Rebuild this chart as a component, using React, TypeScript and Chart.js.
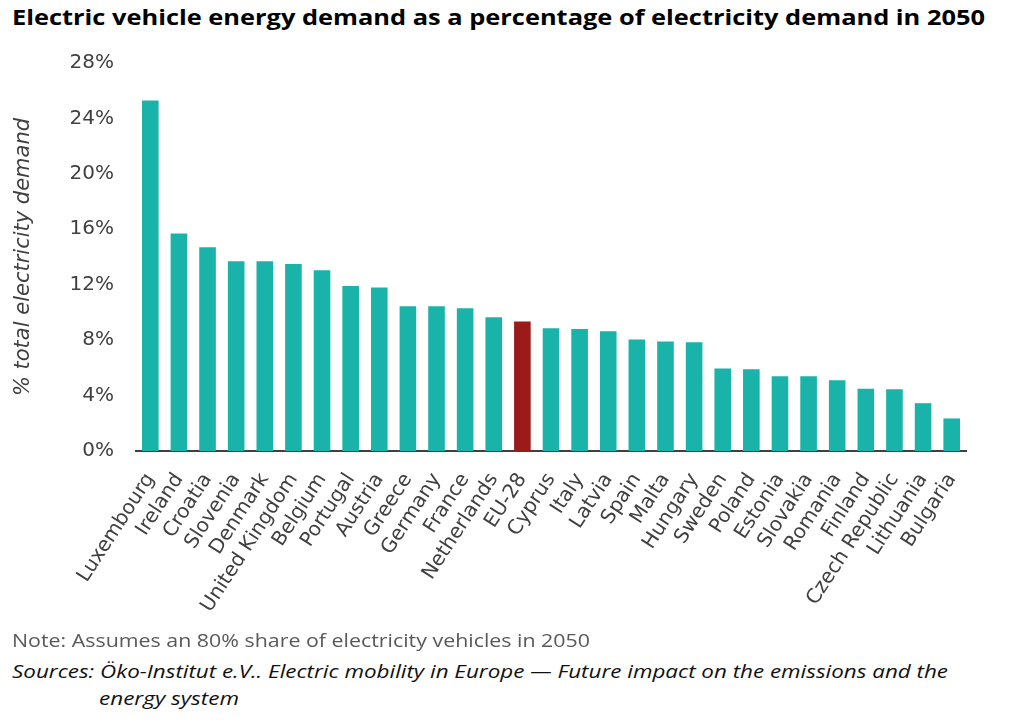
import { useEffect, useLayoutEffect, useRef } from "react";
import { Chart, registerables } from "chart.js";

Chart.register(...registerables);

const COUNTRIES = [
  "Luxembourg", "Ireland", "Croatia", "Slovenia", "Denmark", "United Kingdom",
  "Belgium", "Portugal", "Austria", "Greece", "Germany", "France", "Netherlands",
  "EU-28", "Cyprus", "Italy", "Latvia", "Spain", "Malta", "Hungary", "Sweden",
  "Poland", "Estonia", "Slovakia", "Romania", "Finland", "Czech Republic",
  "Lithuania", "Bulgaria",
];

// % of total electricity demand, 2050
const SHARE = [
  25.3, 15.7, 14.7, 13.7, 13.7, 13.5,
  13.05, 11.9, 11.8, 10.45, 10.45, 10.3, 9.65,
  9.35, 8.85, 8.8, 8.65, 8.05, 7.9, 7.85, 5.95,
  5.9, 5.4, 5.4, 5.1, 4.5, 4.45,
  3.45, 2.35,
];

const HIGHLIGHT = "EU-28";
const Y_MAX = 28;
const Y_STEP = 4;

const TEAL = "#1ab3a9";
const RED = "#9b1a1a";
const AXIS_TEXT = "#404040";
const AXIS_FONT = "'DejaVu Sans', Verdana, sans-serif";

// stretches a single line of text horizontally so it fills `width`
function FitText({ width, style, children }: { width: number; style: React.CSSProperties; children: React.ReactNode }) {
  const ref = useRef<HTMLDivElement>(null);
  useLayoutEffect(() => {
    const el = ref.current;
    if (!el) return;
    el.style.transform = "none";
    const natural = el.getBoundingClientRect().width;
    if (natural > 0) el.style.transform = `scaleX(${width / natural})`;
  }, [width]);
  return (
    <div ref={ref} style={{ ...style, position: "absolute", whiteSpace: "nowrap", transformOrigin: "0 0", display: "inline-block" }}>
      {children}
    </div>
  );
}

export default function App() {
  const canvasRef = useRef<HTMLCanvasElement>(null);

  useEffect(() => {
    document.body.style.margin = "0";
    if (!canvasRef.current) return;

    const chart = new Chart(canvasRef.current, {
      type: "bar",
      data: {
        labels: COUNTRIES,
        datasets: [
          {
            data: SHARE,
            backgroundColor: COUNTRIES.map(c => (c === HIGHLIGHT ? RED : TEAL)),
            barPercentage: 0.58,
            categoryPercentage: 1,
          },
        ],
      },
      options: {
        animation: false,
        responsive: true,
        maintainAspectRatio: false,
        layout: { padding: { left: 9, right: 58, top: 12, bottom: 0 } },
        plugins: { legend: { display: false }, tooltip: { enabled: false } },
        scales: {
          x: {
            grid: { display: false, drawTicks: false },
            border: { display: true, color: AXIS_TEXT, width: 2 },
            ticks: {
              autoSkip: false,
              minRotation: 57,
              maxRotation: 57,
              padding: 18,
              color: AXIS_TEXT,
              font: { family: AXIS_FONT, size: 20 },
            },
            afterFit: scale => { scale.height = 179; },
          },
          y: {
            min: 0,
            max: Y_MAX,
            grid: { display: false, drawTicks: false },
            border: { display: false },
            ticks: {
              stepSize: Y_STEP,
              padding: 22,
              color: AXIS_TEXT,
              font: { family: AXIS_FONT, size: 20 },
              callback: v => v + "%",
            },
            title: {
              display: true,
              text: "% total electricity demand",
              color: AXIS_TEXT,
              padding: { top: 2, bottom: 0 },
              font: { family: AXIS_FONT, size: 21, style: "italic" },
            },
            afterFit: scale => { scale.width = 127; },
          },
        },
      },
    });

    return () => chart.destroy();
  }, []);

  return (
    <div style={{ position: "relative", width: 1024, height: 722, background: "#fff", overflow: "hidden" }}>
      <FitText width={973} style={{ left: 12, top: 3, fontFamily: "'Open Sans', sans-serif", fontWeight: 700, fontSize: 21, color: "#000" }}>
        Electric vehicle energy demand as a percentage of electricity demand in 2050
      </FitText>
      <div style={{ position: "absolute", left: 0, top: 29, width: 1024, height: 601 }}>
        <canvas ref={canvasRef} />
      </div>
      <FitText width={578} style={{ left: 12, top: 628, fontFamily: "'Open Sans', sans-serif", fontSize: 18, color: "#595959" }}>
        Note: Assumes an 80% share of electricity vehicles in 2050
      </FitText>
      <FitText width={936} style={{ left: 12, top: 659, fontFamily: "'Open Sans', sans-serif", fontStyle: "italic", fontSize: 18, color: "#111" }}>
        Sources: Öko-Institut e.V.. Electric mobility in Europe — Future impact on the emissions and the
      </FitText>
      <FitText width={140} style={{ left: 99, top: 686, fontFamily: "'Open Sans', sans-serif", fontStyle: "italic", fontSize: 18, color: "#111" }}>
        energy system
      </FitText>
    </div>
  );
}
